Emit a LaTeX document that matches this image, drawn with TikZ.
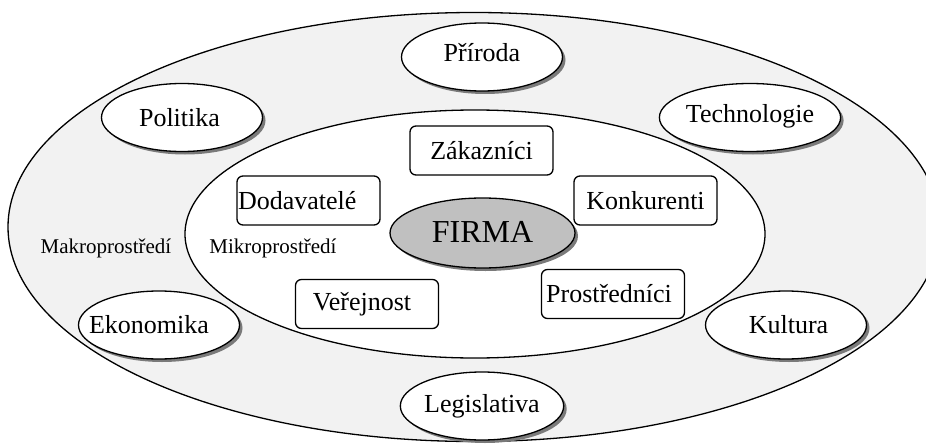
\documentclass[tikz,border=0pt]{standalone}
\usepackage{fontspec}
\setmainfont{Liberation Serif}
\usetikzlibrary{shapes.geometric,shadows}
\definecolor{ringgray}{HTML}{F2F2F2}
\definecolor{firmagray}{HTML}{C0C0C0}
\definecolor{shadowgray}{HTML}{7A7A7A}
\tikzset{
  factor/.style={ellipse, draw=black, line width=1.3pt, fill=white, inner sep=0pt,
    minimum width=161pt, minimum height=68pt, font=\fontsize{26}{30}\selectfont,
    drop shadow={shadow xshift=3pt, shadow yshift=-3pt, fill=shadowgray, opacity=1}},
  actor/.style={rectangle, rounded corners=6pt, draw=black, line width=1.3pt, fill=white,
    inner sep=0pt, minimum width=143pt, minimum height=49pt, font=\fontsize{26}{30}\selectfont},
  envlabel/.style={font=\fontsize{21}{24}\selectfont, inner sep=0pt},
  ring/.style={ellipse, draw=black, line width=1.3pt, inner sep=0pt}
}
\begin{document}
\begin{tikzpicture}[x=1pt,y=-1pt]
\useasboundingbox (0,0) rectangle (926,444);
\node[ring, fill=ringgray, minimum width=932pt, minimum height=429pt] (makro) at (474,227) {};
\node[ring, fill=white, minimum width=580pt, minimum height=248pt] (mikro) at (475,234) {};
% macro factors
\node[factor] (priroda) at (482,57) {\raisebox{10pt}{Příroda}};
\node[factor] (politika) at (182,117.5) {\hspace{-5pt}Politika};
\node[factor] (technologie) at (750,117.5) {\raisebox{8pt}{Technologie}};
\node[factor] (ekonomika) at (159,325) {\hspace{-20pt}Ekonomika};
\node[factor] (kultura) at (786,325) {\hspace{5pt}Kultura};
\node[factor] (legislativa) at (482,406) {Legislativa};
% micro actors
\node[actor] (zakaznici) at (481.5,150.5) {Zákazníci};
\node[actor] (dodavatele) at (308.5,200.5) {\makebox[141pt][l]{Dodavatelé}};
\node[actor] (konkurenti) at (645.5,200.5) {Konkurenti};
\node[actor] (verejnost) at (367,304) {\hspace{-10pt}Veřejnost};
\node[actor] (prostrednici) at (613,294) {\hspace{-8pt}Prostředníci};
% firm
\node[factor, fill=firmagray, minimum width=185pt, minimum height=70pt, font=\fontsize{32}{36}\selectfont] (firma) at (482.5,233) {\raisebox{3pt}{FIRMA}};
% labels
\node[envlabel] (makrolabel) at (106,248) {Makroprostředí};
\node[envlabel] (mikrolabel) at (273,248) {Mikroprostředí};
\end{tikzpicture}
\end{document}
